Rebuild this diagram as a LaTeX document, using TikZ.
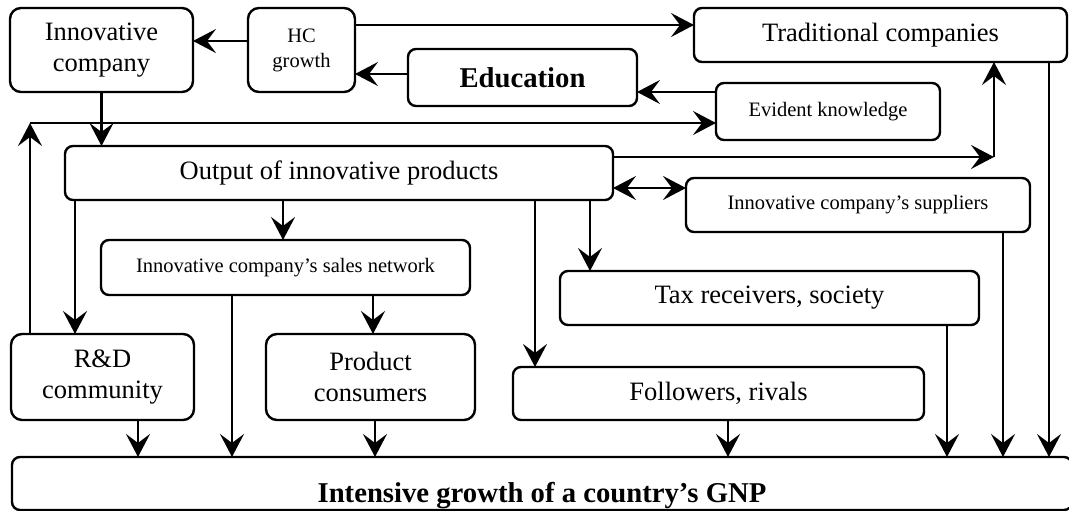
\documentclass[tikz,border=0pt]{standalone}
\usepackage{fontspec}
\setmainfont{Liberation Serif}
\usetikzlibrary{arrows.meta}
\begin{document}
\begin{tikzpicture}[x=1pt,y=-1pt,
  box/.style={draw, line width=2.4pt, rounded corners=8pt, inner sep=0pt,
    outer sep=0pt, align=center, fill=white},
  tallbox/.style={box, rounded corners=11pt},
  big/.style={font=\fontsize{26.5pt}{31pt}\selectfont},
  small/.style={font=\fontsize{20.5pt}{25pt}\selectfont},
  heavy/.style={font=\fontsize{28.7pt}{32pt}\selectfont\bfseries},
  arr/.style={line width=2.2pt, -{Stealth[length=23pt,width=24pt,inset=9pt]}},
  dbl/.style={line width=2.2pt, {Stealth[length=23pt,width=24pt,inset=9pt]}-{Stealth[length=23pt,width=24pt,inset=9pt]}},
]
\useasboundingbox (0,0) rectangle (1069,511);
\clip (0,0) rectangle (1069,511);
\fill[white] (0,0) rectangle (1069,511);

% boxes
\node[tallbox, big, minimum width=183pt, minimum height=84pt] (inno) at (101.5,50) {Innovative\\company};
\node[tallbox, small, minimum width=107pt, minimum height=84pt] (hc) at (301.5,50) {HC\\growth};
\node[box, big, minimum width=373pt, minimum height=54pt] (trad) at (880.5,35) {Traditional companies};
\node[box, heavy, minimum width=229pt, minimum height=57pt] (edu) at (522.5,77.5) {Education};
\node[box, small, minimum width=224pt, minimum height=57pt] (evid) at (828,111.5) {Evident knowledge};
\node[box, big, minimum width=548pt, minimum height=54pt] (out) at (339,173) {Output of innovative products};
\node[box, small, minimum width=344pt, minimum height=54pt] (supp) at (858,205) {Innovative company’s suppliers};
\node[box, small, minimum width=369pt, minimum height=55pt] (sales) at (285.5,267.5) {Innovative company’s sales network};
\node[box, big, minimum width=419pt, minimum height=54pt] (tax) at (769.5,298) {Tax receivers, society};
\node[tallbox, big, minimum width=183pt, minimum height=86pt] (rd) at (102.5,377) {R\&D\\community};
\node[tallbox, big, minimum width=209pt, minimum height=86pt] (prod) at (370.5,377) {Product\\consumers};
\node[box, big, minimum width=411pt, minimum height=53pt] (foll) at (718.5,393.5) {Followers, rivals};
\node[box, heavy, minimum width=1060pt, minimum height=53pt, text height=37pt, text depth=0pt] (gnp) at (542,483.5) {Intensive growth of a country’s GNP};

% upper connectors
\draw[arr] (hc.west |- 0,41) -- (inno.east |- 0,41);
\draw[arr] (hc.east |- 0,25) -- (trad.west |- 0,25);
\draw[arr] (edu.west |- 0,74) -- (hc.east |- 0,74);
\draw[arr] (evid.west |- 0,92) -- (edu.east |- 0,92);

% feedback loop from the R&D community
\coordinate (rdtop) at (30,123);
\draw[arr] (rd.north -| rdtop) -- (rdtop);
\draw[arr] (rdtop) -- (evid.west |- rdtop);
\draw[arr] (inno.south) -- (inno.south |- out.north);

% output to traditional companies and suppliers
\coordinate (tcorner) at (994,157);
\draw[arr] (out.east |- tcorner) -- (tcorner);
\draw[arr] (tcorner) -- (trad.south -| tcorner);
\draw[dbl] (out.east |- 0,188) -- (supp.west |- 0,188);

% output downwards
\draw[arr] (out.south -| 75,0) -- (rd.north -| 75,0);
\draw[arr] (out.south -| 283,0) -- (sales.north -| 283,0);
\draw[arr] (out.south -| 535,0) -- (foll.north -| 535,0);
\draw[arr] (out.south -| 590,0) -- (tax.north -| 590,0);
\draw[arr] (sales.south -| 373,0) -- (prod.north -| 373,0);

% everything feeds GNP growth
\draw[arr] (sales.south -| 232,0) -- (gnp.north -| 232,0);
\draw[arr] (rd.south -| 138,0) -- (gnp.north -| 138,0);
\draw[arr] (prod.south -| 375,0) -- (gnp.north -| 375,0);
\draw[arr] (foll.south -| 728,0) -- (gnp.north -| 728,0);
\draw[arr] (tax.south -| 947,0) -- (gnp.north -| 947,0);
\draw[arr] (supp.south -| 1003,0) -- (gnp.north -| 1003,0);
\draw[arr] (trad.south -| 1049,0) -- (gnp.north -| 1049,0);
\end{tikzpicture}
\end{document}
